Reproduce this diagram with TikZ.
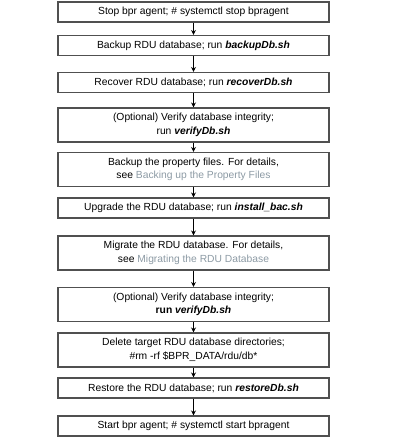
\documentclass[tikz,border=0pt]{standalone}
\usepackage{fontspec}
\setmainfont{Liberation Sans}
\usepackage{tikz}
\usetikzlibrary{arrows.meta}
\definecolor{linkgray}{HTML}{8C9AA4}
\definecolor{edgegray}{HTML}{505050}

\begin{document}
\begin{tikzpicture}[x=1pt, y=-1pt,
        box/.style={draw=edgegray, line width=1.1pt, minimum width=271pt,
                     minimum height=20pt, inner sep=1pt, font=\fontsize{10.3}{13.5}\selectfont},
        tall/.style={box, minimum height=34pt, align=center},
        arr/.style={-{Stealth[length=5pt,width=5pt]}, line width=1.2pt}
      ]
      \useasboundingbox (0,0) rectangle (400,445);
      \node[box] (stop) at (193.5,12) {Stop bpr agent; \# systemctl stop bpragent};
      \node[box] (bak) at (193.5,45.5) {Backup RDU database; run \textbf{\textit{backupDb.sh}}};
      \node[box] (rec) at (193.5,82.5) {Recover RDU database; run \textbf{\textit{recoverDb.sh}}};
      \node[tall] (ver1) at (193.5,125) {(Optional) Verify database integrity;\\run \textbf{\textit{verifyDb.sh}}};
      \node[tall] (prop) at (193.5,169.5) {Backup the property files. For details,\\see \textcolor{linkgray}{Backing up the Property Files}};
      \node[box] (upg) at (193.5,208) {Upgrade the RDU database; run \textbf{\textit{install\_bac.sh}}};
      \node[tall] (mig) at (193.5,253) {Migrate the RDU database. For details,\\see \textcolor{linkgray}{Migrating the RDU Database}};
      \node[tall] (ver2) at (193.5,304.5) {(Optional) Verify database integrity;\\\textbf{run \textit{verifyDb.sh}}};
      \node[tall] (del) at (193.5,350) {Delete target RDU database directories;\\\#rm -rf \$BPR\_DATA/rdu/db*};
      \node[box] (rst) at (193.5,388) {Restore the RDU database; run \textbf{\textit{restoreDb.sh}}};
      \node[box] (start) at (193.5,426) {Start bpr agent; \# systemctl start bpragent};

      \draw[arr] (stop) -- (bak);
      \draw[arr] (bak) -- (rec);
      \draw[arr] (rec) -- (ver1);
      \draw[arr] (ver1) -- (prop);
      \draw[arr] (prop) -- (upg);
      \draw[arr] (upg) -- (mig);
      \draw[arr] (mig) -- (ver2);
      \draw[arr] (ver2) -- (del);
      \draw[arr] (del) -- (rst);
      \draw[arr] (rst) -- (start);
    \end{tikzpicture}
\end{document}
